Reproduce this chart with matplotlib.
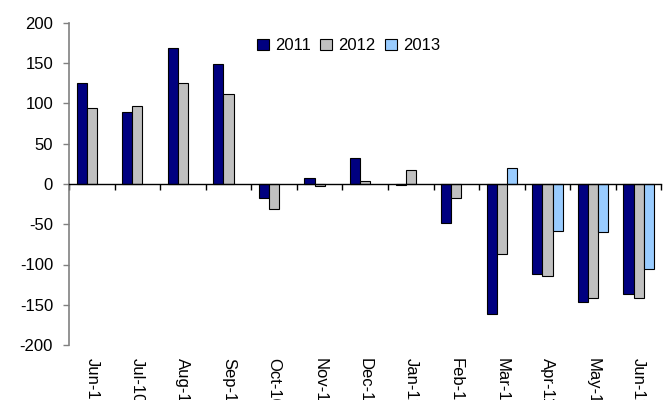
import numpy as np
import matplotlib
matplotlib.use("Agg")
import matplotlib.pyplot as plt

plt.rcParams['font.family'] = ['Liberation Sans', 'DejaVu Sans']
plt.rcParams['axes.unicode_minus'] = False

months = ["Jun-10", "Jul-10", "Aug-10", "Sep-10", "Oct-10", "Nov-10", "Dec-10",
          "Jan-11", "Feb-11", "Mar-11", "Apr-11", "May-11", "Jun-11"]
series_names = ["2011", "2012", "2013"]
vals_2011 = [125, 90, 169, 149, -17, 7, 32, -1, -49, -161, -112, -146, -137]
vals_2012 = [94, 97, 125, 112, -31, -2, 4, 18, -18, -87, -114, -141, -141]
vals_2013 = [np.nan] * 9 + [20, -58, -60, -106]
colors = ["#000080", "#C0C0C0", "#99CCFF"]

fig = plt.figure(figsize=(6.63, 4.0), dpi=100)
ax = fig.add_axes([0.1041, 0.1375, 0.8935, 0.805])

x = np.arange(len(months))
w = 0.222
for k, (vals, c, name) in enumerate(zip([vals_2011, vals_2012, vals_2013], colors, series_names)):
    ax.bar(x + (k - 1) * w, vals, width=w, color=c, edgecolor="black",
           linewidth=0.8, label=name, zorder=2)

ax.set_xlim(-0.5, len(months) - 0.5)
ax.set_ylim(-200, 200)
ax.set_yticks(np.arange(-200, 201, 50))
ax.tick_params(axis="y", labelsize=12, length=4.5, width=1, color="#808080", pad=7)

for s in ["top", "right"]:
    ax.spines[s].set_visible(False)
ax.spines["left"].set_color("#808080")
ax.spines["left"].set_linewidth(1.2)
ax.spines["bottom"].set_position(("data", 0))
ax.spines["bottom"].set_color("black")
ax.spines["bottom"].set_linewidth(1.0)

# category boundary ticks on the zero line
ax.set_xticks(x)
ax.set_xticklabels([])
ax.tick_params(axis="x", which="major", length=0)
ax.set_xticks(np.arange(len(months) + 1) - 0.5, minor=True)
ax.tick_params(axis="x", which="minor", length=4, width=1, color="black", direction="out")

# month labels below the plot area
sec = ax.secondary_xaxis(0.0)
sec.set_xticks(x)
sec.set_xticklabels(months, rotation=270, fontsize=12, va="top", ha="center")
sec.tick_params(length=0, pad=9)
sec.spines["bottom"].set_visible(False)

ax.legend(loc="center", bbox_to_anchor=(0.472, 0.929), ncol=3, frameon=False,
          fontsize=12, handlelength=0.7, handleheight=0.7, handletextpad=0.4,
          columnspacing=0.55, borderpad=0)

fig.savefig("out.png", dpi=100)
